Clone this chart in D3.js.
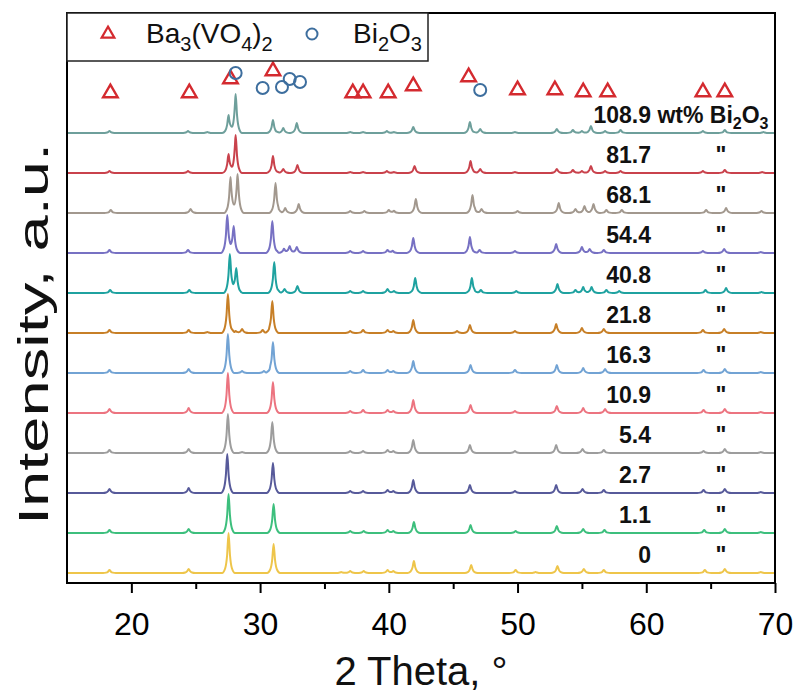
<!DOCTYPE html>
<html><head><meta charset="utf-8">
<script src="https://cdn.jsdelivr.net/npm/d3@7"></script>
<style>body{margin:0;background:#fff}text{font-family:"Liberation Sans",Arial,sans-serif}</style>
</head><body><svg id="c" width="796" height="693"></svg>
<script>
// ---------------- data ----------------
const xTicks = [20, 30, 40, 50, 60, 70];
const xMinorTicks = [25, 35, 45, 55, 65];
const sampleLabels = ["0", "1.1", "2.7", "5.4", "10.9", "16.3", "21.8", "40.8", "54.4", "68.1", "81.7", "108.9"];
const traceStep = 40; // vertical offset between patterns (a.u.)

// peaks: [2theta, intensity a.u.], bottom pattern first
const peaks_0 = [[18.3,3],[24.45,4],[27.55,40],[31.05,29],[36.3,1],[37.0,2],[38.05,2],[39.9,3],[40.35,2],[41.95,12],[46.4,8],[49.85,3],[51.4,1],[53.1,7],[55.15,4],[56.7,3],[64.55,3],[66.1,4],[68.9,1]];
const peaks_1 = [[18.3,3],[24.45,4],[27.55,39],[31.05,29],[37.0,2],[38.05,2],[39.9,3],[40.35,2],[41.95,11],[46.35,8],[49.85,2],[53.05,7],[55.1,4],[56.75,3],[64.5,3],[66.1,4],[68.9,1]];
const peaks_2 = [[18.3,4],[24.45,5],[27.45,39],[31.0,30],[37.0,2],[38.0,2],[39.9,3],[40.35,2],[41.9,13],[46.3,8],[49.8,2],[53.0,8],[55.05,4],[56.7,3],[64.45,3],[66.1,4],[68.9,1]];
const peaks_3 = [[18.3,3],[24.45,4],[27.5,39],[28.6,1],[30.95,31],[37.0,2],[38.0,2],[39.9,3],[40.35,2],[41.9,13],[46.3,8],[49.8,2],[53.0,8],[55.05,4],[56.7,3],[64.45,2],[66.1,4],[68.9,1]];
const peaks_4 = [[18.3,4],[24.45,5],[27.5,40],[31.0,31],[37.0,2],[38.0,3],[39.9,3],[40.35,2],[41.9,13],[46.35,8],[49.8,2],[53.05,7],[55.1,5],[56.8,4],[64.45,3],[66.1,4],[68.9,1]];
const peaks_5 = [[18.3,3],[24.45,4],[27.5,39],[28.6,2],[30.3,2],[31.0,31],[37.0,2],[38.0,3],[39.9,3],[40.35,2],[41.9,12],[46.35,8],[49.8,3],[53.05,8],[55.1,5],[56.8,4],[64.45,3],[66.1,4],[68.9,1]];
const peaks_6 = [[18.3,3],[24.45,3],[25.9,1],[27.5,39],[28.1,2],[28.6,4],[30.2,3],[30.95,32],[37.0,2],[38.0,3],[39.9,3],[40.35,2],[41.9,13],[45.3,2],[46.3,8],[49.8,2],[53.0,9],[55.0,5],[56.7,4],[64.4,3],[66.05,4],[68.9,1]];
const peaks_7 = [[18.35,3],[24.5,3],[27.65,39],[28.15,25],[31.1,31],[31.9,4],[32.9,7],[37.0,2],[38.0,2],[39.9,4],[40.4,2],[42.05,15],[46.45,15],[47.15,3],[49.9,2],[53.1,9],[54.5,3],[55.1,6],[55.75,6],[56.9,3],[57.9,2],[64.6,3],[66.2,5],[68.95,1]];
const peaks_8 = [[18.3,3],[24.4,3],[27.45,38],[27.95,27],[30.95,32],[31.85,4],[32.3,7],[32.85,6],[37.0,2],[38.0,2],[39.9,3],[40.3,2],[41.9,15],[46.3,16],[47.05,3],[49.8,2],[53.0,9],[55.0,6],[55.6,4],[56.7,3],[64.4,2],[66.05,4],[68.9,1]];
const peaks_9 = [[18.4,3],[24.6,4],[27.7,36],[28.25,39],[31.2,30],[31.95,5],[33.0,9],[37.0,2],[38.1,2],[40.0,3],[40.4,2],[42.1,14],[46.5,18],[47.2,4],[50.0,2],[53.2,10],[54.5,4],[55.2,7],[55.9,9],[56.9,3],[58.1,3],[64.65,3],[66.2,5],[68.95,2]];
const peaks_10 = [[18.3,2],[24.4,2],[27.55,19],[28.1,38],[31.0,17],[31.8,4],[32.9,8],[37.0,1],[38.0,1],[39.85,2],[40.4,1],[42.0,7],[46.35,12],[47.1,4],[49.8,1],[53.05,4],[54.3,3],[55.0,2],[55.7,7],[56.8,2],[58.0,2],[64.4,2],[66.1,3],[69.0,1]];
const peaks_11 = [[18.3,2],[24.4,2],[25.9,1],[27.55,18],[28.1,39],[31.0,13],[31.8,5],[32.85,10],[37.0,1],[38.0,1],[39.85,2],[40.4,1],[41.9,6],[46.3,11],[47.1,4],[49.8,1],[53.05,4],[54.3,3],[55.0,2],[55.7,7],[56.8,2],[58.0,3],[64.4,2],[66.1,3],[69.1,1]];
const peakLists = [peaks_0, peaks_1, peaks_2, peaks_3, peaks_4, peaks_5, peaks_6, peaks_7, peaks_8, peaks_9, peaks_10, peaks_11];

// reference phase markers: 2theta and drawing level (a.u.)
const baTheta = [18.37, 24.5, 27.7, 31.0, 37.2, 38.0, 39.95, 41.9, 46.2, 50.0, 52.9, 55.1, 57.0, 64.4, 66.1];
const baLevel = [480, 480, 494, 502, 480, 480, 480, 487, 496, 483, 483, 481, 481, 481, 481];
const biTheta = [28.1, 30.2, 31.7, 32.3, 33.1, 47.1];
const biLevel = [500, 485, 486, 494, 491, 483];

// ---------------- styles ----------------
const traceColors = ["#eec54a", "#3dbf7d", "#575a9a", "#9d9d9d", "#ec7480", "#72a3d4", "#c77f27", "#1fa2a0", "#7771c3", "#a2988e", "#c9424c", "#6e9f9b"];
const profOff = [-0.5, -0.26, -0.11, 0, 0.11, 0.26, 0.5];
const profFrac = [0, 0.12, 0.45, 1, 0.45, 0.12, 0];

const svg = d3.select("#c");
const L = 67, R = 775, T = 13, B = 583;
const x = d3.scaleLinear([15, 70], [L, R]);
const y = d3.scaleLinear([-10, 560], [B, T]);

function prof(d) {
  if (d <= profOff[0] || d >= profOff[profOff.length - 1]) return 0;
  for (let i = 0; i < profOff.length - 1; i++) {
    if (d >= profOff[i] && d <= profOff[i + 1]) {
      const t = (d - profOff[i]) / (profOff[i + 1] - profOff[i]);
      return profFrac[i] + t * (profFrac[i + 1] - profFrac[i]);
    }
  }
  return 0;
}
function buildTrace(peaks) {
  const xs = new Set([15, 70]);
  peaks.forEach(p => profOff.forEach(o => { const v = +(p[0] + o).toFixed(3); if (v >= 15 && v <= 70) xs.add(v); }));
  return Array.from(xs).sort((a, b) => a - b).map(v => [v, d3.sum(peaks, p => p[1] * prof(v - p[0]))]);
}

svg.append("clipPath").attr("id", "clip").append("rect").attr("x", L).attr("y", T).attr("width", R - L).attr("height", B - T);
const g = svg.append("g").attr("clip-path", "url(#clip)");
peakLists.forEach((pk, i) => {
  const off = i * traceStep;
  const line = d3.line().x(d => x(d[0])).y(d => y(d[1] + off)).curve(d3.curveMonotoneX);
  g.append("path").datum(buildTrace(pk)).attr("d", line)
    .attr("fill", "none").attr("stroke", traceColors[i]).attr("stroke-width", 2).attr("stroke-linejoin", "round");
});

// markers
const tri = d3.symbol().type(d3.symbolTriangle).size(92);
g.selectAll(".ba").data(baTheta).join("path").attr("class", "ba")
  .attr("d", tri).attr("transform", (d, i) => `translate(${x(d)},${y(baLevel[i])})`)
  .attr("fill", "none").attr("stroke", "#d42a2f").attr("stroke-width", 2.4);
g.selectAll(".bi").data(biTheta).join("circle").attr("class", "bi")
  .attr("cx", d => x(d)).attr("cy", (d, i) => y(biLevel[i])).attr("r", 6)
  .attr("fill", "none").attr("stroke", "#3d6e9e").attr("stroke-width", 2);

// sample labels
const lab = svg.append("g").attr("font-weight", "bold").attr("font-size", 23).attr("fill", "#111");
sampleLabels.forEach((s, i) => {
  const by = y(i * traceStep) - 10;
  lab.append("text").attr("x", 651).attr("y", by).attr("text-anchor", "end").text(s);
  if (i === sampleLabels.length - 1) {
    const t = lab.append("text").attr("x", 651).attr("y", by);
    t.append("tspan").text("\u00a0wt% Bi");
    t.append("tspan").attr("font-size", 16).attr("dy", 6).text("2");
    t.append("tspan").attr("dy", -6).text("O");
    t.append("tspan").attr("font-size", 16).attr("dy", 6).text("3");
  } else {
    lab.append("text").attr("x", 721).attr("y", by).attr("text-anchor", "middle").text('"');
  }
});

// frame
svg.append("rect").attr("x", L).attr("y", T).attr("width", R - L).attr("height", B - T)
  .attr("fill", "none").attr("stroke", "#000").attr("stroke-width", 2);

// x axis
const ax = svg.append("g").attr("transform", `translate(0,${B})`)
  .call(d3.axisBottom(x).tickValues(xTicks).tickSize(10).tickPadding(19).tickFormat(d3.format("d")));
ax.select(".domain").remove();
ax.selectAll("line").attr("stroke", "#000").attr("stroke-width", 2);
ax.selectAll("text").attr("font-size", 32).attr("fill", "#000").style("font-family", '"Liberation Sans",Arial,sans-serif');
const axm = svg.append("g").attr("transform", `translate(0,${B})`)
  .call(d3.axisBottom(x).tickValues(xMinorTicks).tickSize(6).tickFormat(""));
axm.select(".domain").remove();
axm.selectAll("line").attr("stroke", "#000").attr("stroke-width", 2);

// axis titles
svg.append("text").attr("x", (L + R) / 2).attr("y", 685).attr("text-anchor", "middle")
  .attr("font-size", 40).attr("fill", "#111").text("2 Theta, \u00b0");
svg.append("text").attr("transform", `translate(48,334) rotate(-90) scale(1.55,1)`).attr("text-anchor", "middle")
  .attr("font-size", 42).attr("fill", "#111").text("Intensity, a.u.");

// legend
const lg = svg.append("g");
lg.append("rect").attr("x", L).attr("y", T).attr("width", 428 - L).attr("height", 61 - T)
  .attr("fill", "#fff").attr("stroke", "#222").attr("stroke-width", 1.5);
lg.append("path").attr("d", d3.symbol().type(d3.symbolTriangle).size(70)).attr("transform", "translate(108,34)")
  .attr("fill", "none").attr("stroke", "#d42a2f").attr("stroke-width", 2.2);
lg.append("circle").attr("cx", 312).attr("cy", 34).attr("r", 5.5)
  .attr("fill", "none").attr("stroke", "#3d6e9e").attr("stroke-width", 2);
const t1 = lg.append("text").attr("x", 146).attr("y", 43).attr("font-size", 28).attr("fill", "#111");
t1.append("tspan").text("Ba");
t1.append("tspan").attr("font-size", 20).attr("dy", 8).text("3");
t1.append("tspan").attr("dy", -8).text("(VO");
t1.append("tspan").attr("font-size", 20).attr("dy", 8).text("4");
t1.append("tspan").attr("dy", -8).text(")");
t1.append("tspan").attr("font-size", 20).attr("dy", 8).text("2");
const t2 = lg.append("text").attr("x", 353).attr("y", 43).attr("font-size", 28).attr("fill", "#111");
t2.append("tspan").text("Bi");
t2.append("tspan").attr("font-size", 20).attr("dy", 8).text("2");
t2.append("tspan").attr("dy", -8).text("O");
t2.append("tspan").attr("font-size", 20).attr("dy", 8).text("3");
</script></body></html>
